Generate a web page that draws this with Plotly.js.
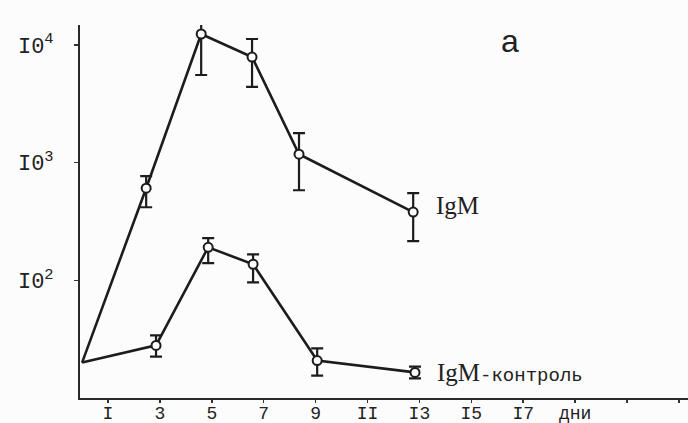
<!DOCTYPE html>
<html>
<head>
<meta charset="utf-8">
<script src="https://cdn.plot.ly/plotly-3.0.1.min.js"></script>
<style>html,body{margin:0;padding:0;background:#fcfcfc;}#chart{width:688px;height:423px;}</style>
</head>
<body>
<div id="chart"></div>
<script>
// Days (hand-drawn positions)
const igmDays = [0, 2.47, 4.59, 6.55, 8.36, 12.76];
const igmValues = [20, 607, 12400, 7900, 1180, 380];
const igmUpper = [null, 767, 18400, 11250, 1780, 550];
const igmLower = [null, 418, 5560, 4400, 583, 215];

const ctrlDays = [0, 2.85, 4.86, 6.59, 9.06, 12.83];
const ctrlValues = [20, 28, 191, 137, 20.8, 16.5];
const ctrlUpper = [null, 34, 228, 166, 26.4, 18.5];
const ctrlLower = [null, 22.5, 140, 96, 15.5, 14.7];

const xTickVals = [1, 3, 5, 7, 9, 11, 13, 15, 17, 19, 21, 23];
const xTickText = ['I', '3', '5', '7', '9', 'II', 'I3', 'I5', 'I7', 'дни', '', ''];
const yTickVals = [100, 1000, 10000];
const yTickText = ['I0<sup>2</sup>', 'I0<sup>3</sup>', 'I0<sup>4</sup>'];

const ink = '#1c1c1c';

function lineTrace(x, y) {
  return {x: x, y: y, type: 'scatter', mode: 'lines',
    line: {color: ink, width: 2.6}, hoverinfo: 'skip', showlegend: false};
}
function pointTrace(x, y, up, lo, size) {
  const xs = x.slice(1), ys = y.slice(1);
  const plus = up.slice(1).map((u, i) => u - ys[i]);
  const minus = lo.slice(1).map((l, i) => ys[i] - l);
  return {x: xs, y: ys, type: 'scatter', mode: 'markers',
    marker: {symbol: 'circle', size: size, color: '#fcfcfc', line: {color: ink, width: 2}},
    error_y: {type: 'data', symmetric: false, array: plus, arrayminus: minus,
      color: ink, thickness: 2.2, width: 6},
    showlegend: false};
}

const data = [
  lineTrace(igmDays, igmValues),
  lineTrace(ctrlDays, ctrlValues),
  pointTrace(igmDays, igmValues, igmUpper, igmLower, 9),
  pointTrace(ctrlDays, ctrlValues, ctrlUpper, ctrlLower, 9)
];

const layout = {
  width: 688, height: 423,
  margin: {l: 80, r: 0, t: 25, b: 25},
  paper_bgcolor: '#fcfcfc', plot_bgcolor: '#fcfcfc',
  showlegend: false,
  font: {family: 'Liberation Mono, DejaVu Sans Mono, monospace', color: '#222'},
  xaxis: {
    range: [-0.08, 23.35], showgrid: false, zeroline: false,
    showline: true, linecolor: '#2a2a2a', linewidth: 2,
    tickmode: 'array', tickvals: xTickVals, ticktext: xTickText,
    ticks: 'outside', ticklen: 3, tickwidth: 1.5, tickcolor: '#333',
    ticklabelstandoff: -6,
    tickfont: {size: 18, family: 'Liberation Mono, monospace', color: '#222'}
  },
  yaxis: {
    type: 'log', range: [1, 4.17], showgrid: false, zeroline: false,
    showline: true, linecolor: '#2a2a2a', linewidth: 2,
    tickmode: 'array', tickvals: yTickVals, ticktext: yTickText,
    ticks: 'outside', ticklen: 4, tickwidth: 1.5, tickcolor: '#333',
    ticklabelstandoff: 16,
    tickfont: {size: 22, family: 'Liberation Mono, monospace', color: '#222'}
  },
  annotations: [
    {x: 0.725, y: 1.01, xref: 'paper', yref: 'paper', text: 'a', showarrow: false,
      font: {size: 32, family: 'Liberation Sans, sans-serif', color: '#222'}},
    {x: 13.55, y: 2.64, xref: 'x', yref: 'y', xanchor: 'left', text: 'IgM', showarrow: false,
      font: {size: 25, family: 'Liberation Serif, serif', color: '#222'}},
    {x: 13.6, y: 1.215, xref: 'x', yref: 'y', xanchor: 'left',
      text: 'IgM<span style="font-size:19px;font-family:Liberation Mono, monospace">-контроль</span>',
      showarrow: false,
      font: {size: 25, family: 'Liberation Serif, serif', color: '#222'}}
  ]
};

Plotly.newPlot('chart', data, layout, {staticPlot: true, displayModeBar: false});
</script>
</body>
</html>
